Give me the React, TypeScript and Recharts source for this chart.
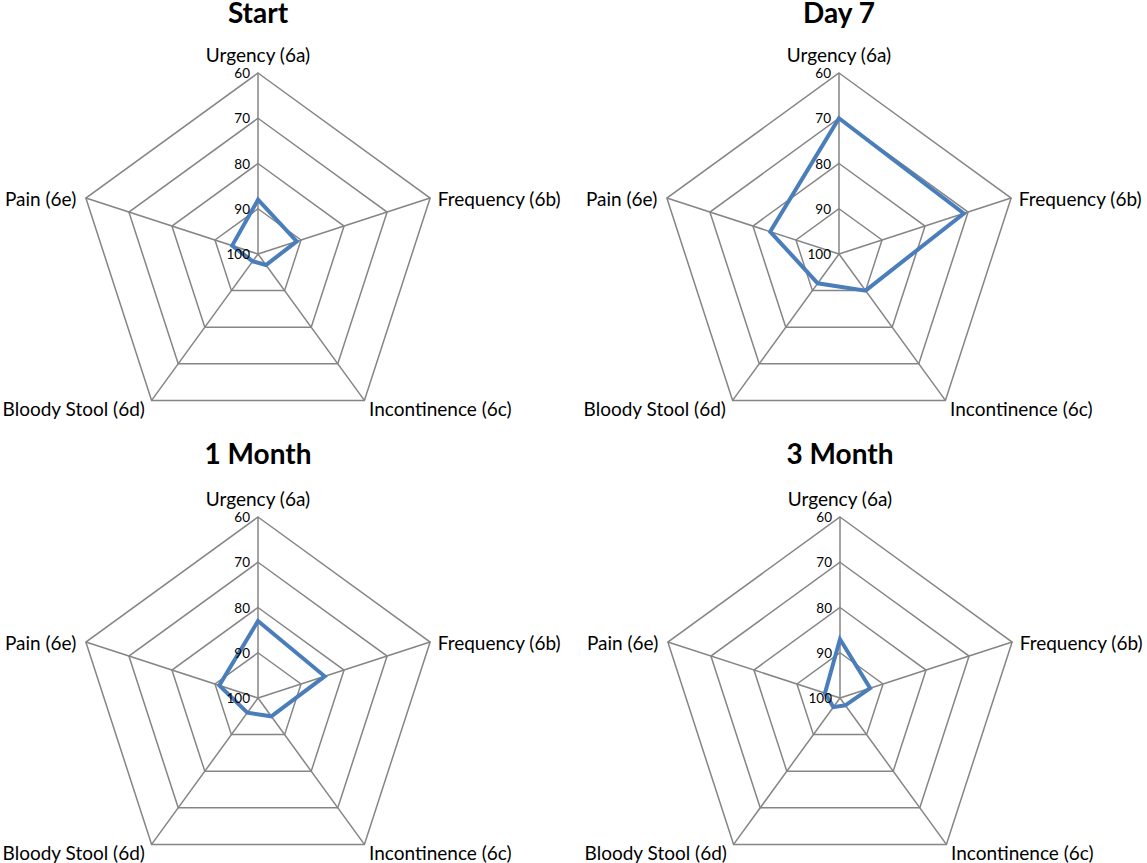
import { RadarChart, Radar, PolarGrid, PolarAngleAxis, PolarRadiusAxis } from 'recharts';

const symptoms = ['Urgency (6a)', 'Frequency (6b)', 'Incontinence (6c)', 'Bloody Stool (6d)', 'Pain (6e)'];
const startValues = [88, 91, 97, 98, 94];
const day7Values = [70, 71, 90, 92, 84];
const month1Values = [83, 84.5, 95, 96, 91];
const month3Values = [87, 93, 98, 97.5, 96.5];
const scoreDomain: [number, number] = [60, 100];

const FONT = 'Lato, "Open Sans", sans-serif';

function buildRows(values: number[]) {
  return symptoms.map((name, i) => ({ name, score: values[i] }));
}

function AngleTick(props: any) {
  const { x, y, payload, index } = props;
  let anchor = 'start';
  let dx = 0;
  let dy = 3;
  let baseline = 'central';
  if (index === 0) {
    anchor = 'middle';
    dy = -3;
    baseline = 'alphabetic';
  } else if (index === 3 || index === 4) {
    anchor = 'end';
    dx = -2;
  }
  if (index === 2 || index === 3) dy = 2;
  return (
    <text x={x + dx} y={y + dy} textAnchor={anchor} dominantBaseline={baseline} fontSize={19} fontFamily={FONT} fill="#000">
      {payload.value}
    </text>
  );
}

function RadiusTick(props: any) {
  const { x, y, payload } = props;
  return (
    <text x={x - 8} y={y} textAnchor="end" dominantBaseline="central" fontSize={13.5} fontFamily={FONT} fill="#000">
      {payload.value}
    </text>
  );
}

interface PanelProps {
  title: string;
  values: number[];
  left: number;
  top: number;
  width: number;
  titleTop: number;
}

function Panel({ title, values, left, top, width, titleTop }: PanelProps) {
  return (
    <div style={{ position: 'absolute', left, top, width, height: 431 }}>
      <div
        style={{
          position: 'absolute',
          left: 0,
          width: 516,
          top: titleTop,
          lineHeight: '24px',
          textAlign: 'center',
          fontFamily: FONT,
          fontWeight: 700,
          fontSize: 28,
          color: '#000',
        }}
      >
        {title}
      </div>
      <RadarChart width={width} height={431} data={buildRows(values)} cx={258} cy={254} outerRadius={181} margin={{ top: 0, right: 0, bottom: 0, left: 0 }}>
        <PolarGrid gridType="polygon" stroke="#858585" strokeWidth={1.5} />
        <PolarAngleAxis dataKey="name" tick={<AngleTick />} tickLine={false} axisLine={false} />
        <PolarRadiusAxis angle={90} domain={scoreDomain} reversed tickCount={5} axisLine={false} tickLine={false} tick={<RadiusTick />} />
        <Radar dataKey="score" stroke="#4a7ebb" strokeWidth={4} fill="none" fillOpacity={0} dot={false} isAnimationActive={false} />
      </RadarChart>
    </div>
  );
}

export default function App() {
  return (
    <div style={{ position: 'absolute', left: 0, top: 0, width: 1147, height: 863, background: '#fff', overflow: 'hidden' }}>
      <Panel title="Start" values={startValues} left={0} top={0} width={573} titleTop={0} />
      <Panel title="Day 7" values={day7Values} left={581} top={0} width={566} titleTop={0} />
      <Panel title="1 Month" values={month1Values} left={0} top={444} width={573} titleTop={-3} />
      <Panel title="3 Month" values={month3Values} left={582} top={444} width={565} titleTop={-3} />
    </div>
  );
}
